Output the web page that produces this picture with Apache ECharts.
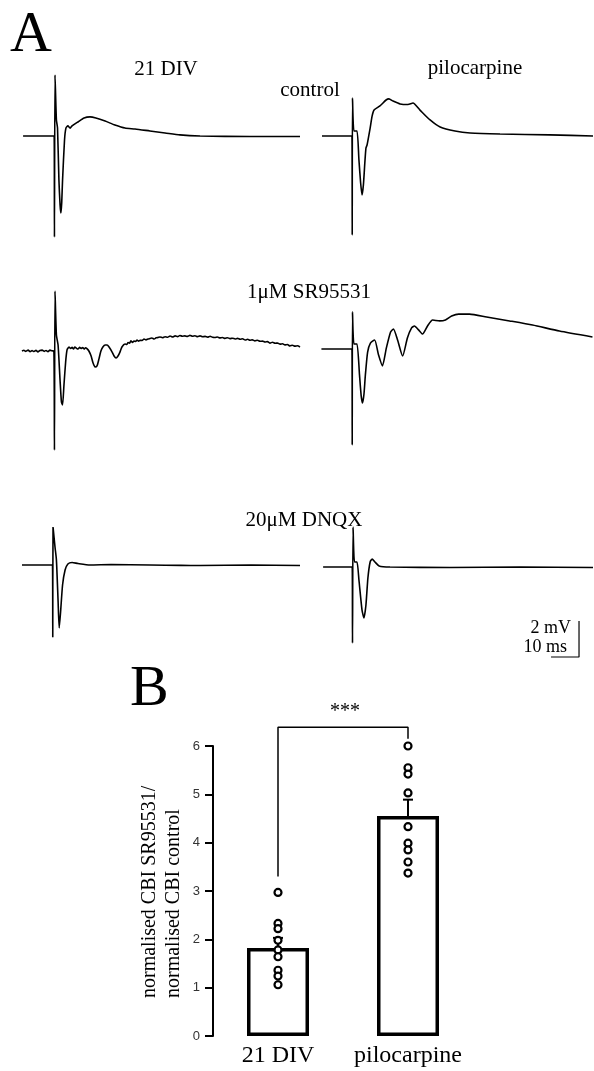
<!DOCTYPE html>
<html>
<head>
<meta charset="utf-8">
<script src="https://cdn.jsdelivr.net/npm/echarts/dist/echarts.min.js"></script>
<style>
  html, body { margin: 0; padding: 0; background: #fff; }
  #chart { width: 594px; height: 1071px; }
</style>
</head>
<body>
<div id="chart"></div>
<script>
// ---------- Panel A: field potential traces, [time ms, voltage mV] ----------
const trace21DivControl = [[-11.4,0],[-0.3,0],[-0.2,-5.61],[0,3.39],[0.5,0.89],[0.9,0.44],[1.4,-2.44],[1.8,-3.8],[2.1,-4.28],[2.4,-3.7],[2.7,-2.44],[3.4,-0.22],[3.9,0.44],[4.6,0.56],[5.4,0.44],[6.1,0.56],[8.2,0.78],[10.4,1.0],[12.5,1.06],[14.6,1.0],[17.9,0.83],[21.4,0.61],[25,0.44],[28.6,0.39],[33.9,0.28],[39.3,0.17],[44.6,0.06],[51.8,0],[69.6,-0.03],[87.5,-0.03]];
const tracePiloControl = [[-10.9,0],[-0.2,0],[-0.1,-5.5],[0,2.11],[0.5,0.28],[1.6,0.28],[2.3,-1.33],[2.9,-2.6],[3.4,-3.28],[3.9,-2.7],[4.4,-1.5],[4.8,-0.67],[5.2,-0.5],[6.3,0.44],[7.0,1.1],[7.7,1.44],[9.8,1.67],[12,2.0],[13,2.06],[14.5,1.94],[17,1.78],[19.8,1.75],[21.6,1.83],[24.1,1.44],[27.7,0.89],[31.3,0.5],[36.6,0.28],[42,0.17],[52.7,0.11],[70.5,0.06],[85.9,0]];
const trace21DivSR = [[-11.8,0],[-11.1,0.04],[-10.4,-0.02],[-9.6,0.05],[-8.9,-0.04],[-8.2,0.02],[-7.5,-0.03],[-6.8,0.04],[-6.1,-0.05],[-5.4,0.03],[-4.6,0.05],[-3.9,-0.02],[-3.2,0.03],[-2.5,-0.04],[-1.8,0.05],[-1.1,0.01],[-0.4,0],[-0.2,-5.5],[0,3.33],[0.5,0.89],[1.1,0.33],[1.8,-1.61],[2.3,-2.83],[2.7,-3.0],[3.2,-1.89],[3.8,-0.61],[4.3,0.06],[5.0,0.22],[5.6,0.14],[6.1,0.2],[6.6,0.12],[7.1,0.22],[7.7,0.15],[8.2,0.11],[8.8,0.2],[9.3,0.14],[9.9,0.19],[10.4,0.11],[10.9,0.18],[11.4,0.13],[12.1,0],[12.9,-0.28],[13.6,-0.67],[14.3,-0.89],[15.0,-0.83],[15.7,-0.44],[16.4,0],[17.1,0.22],[17.9,0.33],[18.6,0.33],[19.3,0.22],[20.4,-0.06],[21.1,-0.28],[21.8,-0.39],[22.5,-0.28],[23.2,-0.06],[23.9,0.22],[25.0,0.39],[25.6,0.36],[26.1,0.47],[26.6,0.43],[27.1,0.56],[27.7,0.48],[28.2,0.55],[28.8,0.53],[29.3,0.61],[29.9,0.55],[30.4,0.6],[31.1,0.58],[31.8,0.67],[32.5,0.62],[33.2,0.66],[33.9,0.7],[34.6,0.72],[35.4,0.67],[36.1,0.73],[36.8,0.75],[37.5,0.78],[38.4,0.74],[39.3,0.79],[40.2,0.76],[41.1,0.83],[42.0,0.78],[42.9,0.84],[43.8,0.8],[44.6,0.86],[45.5,0.82],[46.4,0.84],[47.3,0.81],[48.2,0.87],[49.1,0.82],[50.0,0.85],[50.9,0.8],[51.8,0.84],[52.7,0.79],[53.6,0.81],[54.5,0.77],[55.4,0.82],[56.3,0.76],[57.1,0.75],[58.0,0.78],[58.9,0.73],[59.8,0.75],[60.7,0.7],[61.6,0.74],[62.5,0.69],[63.4,0.71],[64.3,0.67],[65.2,0.7],[66.1,0.65],[67.0,0.68],[67.9,0.61],[68.8,0.65],[69.6,0.6],[70.5,0.62],[71.4,0.56],[72.3,0.6],[73.2,0.54],[74.1,0.55],[75.0,0.5],[75.9,0.52],[76.8,0.44],[77.7,0.49],[78.6,0.43],[79.5,0.44],[80.4,0.38],[81.3,0.4],[82.1,0.34],[83.0,0.36],[83.9,0.28],[84.8,0.32],[85.7,0.27],[86.6,0.29],[87.5,0.22]];
const tracePiloSR = [[-11.1,0],[-0.2,0],[-0.1,-5.33],[0,2.06],[0.5,0.28],[1.6,0.28],[2.5,-1.44],[3.1,-2.6],[3.6,-3.0],[4.1,-2.5],[4.6,-1.44],[5.4,-0.17],[6.4,0.33],[7.9,0.5],[9.3,-0.33],[10.7,-0.94],[12.1,0.06],[13.6,0.94],[14.6,1.11],[16.1,0.5],[17.9,-0.39],[19.6,0.61],[21.1,1.17],[22.1,1.28],[23.6,1.06],[25,0.83],[26.8,1.28],[28.6,1.61],[31.1,1.56],[33.2,1.61],[35.4,1.83],[37.9,1.94],[41.8,1.94],[47.9,1.78],[56.1,1.56],[64.3,1.33],[73.9,1.0],[85.7,0.67]];
const trace21DivDNQX = [[-11.8,0],[-0.9,0],[-0.8,-4.0],[-0.7,2.11],[0,1.0],[0.5,0.3],[1.1,-2.0],[1.5,-3.5],[2.0,-2.6],[2.7,-1.11],[3.6,-0.28],[4.6,0.06],[6.1,0.14],[8.2,0.08],[12.5,0],[20,0.02],[33.9,0],[45,-0.02],[51.8,-0.03],[70,0],[87.5,-0.03]];
const tracePiloDNQX = [[-10.5,0],[-0.1,0],[0,-4.22],[0.2,2.22],[0.7,0.28],[1.6,0.28],[2.3,-0.72],[3.4,-2.39],[4.1,-2.83],[4.8,-2.11],[5.5,-0.61],[6.3,0.28],[7.0,0.44],[8.0,0.28],[9.5,0.06],[13.4,0],[34.8,-0.03],[59.8,0],[85.9,-0.03]];
const scaleBarMs = 10;
const scaleBarMv = 2;

// ---------- Panel B: CBI ratio ----------
const groupNames = ['21 DIV', 'pilocarpine'];
const ratioMeans = [1.82, 4.55];
const ratioSEM = [0.21, 0.34];
const ratioPoints21Div = [2.97, 2.33, 2.22, 1.98, 1.78, 1.64, 1.36, 1.24, 1.06];
const ratioPointsPilo = [6.0, 5.55, 5.42, 5.03, 4.33, 3.99, 3.85, 3.60, 3.37];
const yTickValues = [0, 1, 2, 3, 4, 5, 6];
const bracketX = [0, 0, 1, 1];
const bracketY = [3.3, 6.39, 6.39, 6.15];

// ---------- layout ----------
const SERIF = 'Liberation Serif';
const PX_MS = 2.8, PX_MV = 18;
const traces = [trace21DivControl, tracePiloControl, trace21DivSR, tracePiloSR, trace21DivDNQX, tracePiloDNQX];
const baselines = [136, 136, 351, 349, 565, 567];
const colX = [{ artifact: 55, min: -12, max: 88 }, { artifact: 352.5, min: -11, max: 86 }];
const Y_MIN = -6, Y_MAX = 4;

const grids = [], xAxes = [], yAxes = [], series = [];
traces.forEach((tr, i) => {
  const c = colX[i % 2];
  grids.push({
    left: c.artifact + c.min * PX_MS,
    width: (c.max - c.min) * PX_MS,
    top: baselines[i] - Y_MAX * PX_MV,
    height: (Y_MAX - Y_MIN) * PX_MV
  });
  xAxes.push({ gridIndex: i, type: 'value', min: c.min, max: c.max, show: false });
  yAxes.push({ gridIndex: i, type: 'value', min: Y_MIN, max: Y_MAX, show: false });
  series.push({
    type: 'line', xAxisIndex: i, yAxisIndex: i, data: tr,
    symbol: 'none', clip: false, smooth: 0.2,
    lineStyle: { color: '#000', width: 1.6 }
  });
});
// scale bar in the last trace grid (10 ms, 2 mV)
const sbEnd = 80.9, sbLow = -5;
series.push({
  type: 'line', xAxisIndex: 5, yAxisIndex: 5, symbol: 'none', clip: false,
  data: [[sbEnd - scaleBarMs, sbLow], [sbEnd, sbLow], [sbEnd, sbLow + scaleBarMv]],
  lineStyle: { color: '#000', width: 1.2 }
});

// panel B grid
const B = 6;
grids.push({ left: 213, top: 746, width: 260, height: 290 });
xAxes.push({
  gridIndex: B, type: 'category', data: groupNames,
  axisLine: { show: false }, axisTick: { show: false },
  axisLabel: { interval: 0, fontFamily: SERIF, fontSize: 24, color: '#000', margin: 8 }
});
yAxes.push({
  gridIndex: B, type: 'value', position: 'left', min: yTickValues[0], max: yTickValues[yTickValues.length - 1], interval: 1,
  axisLine: { show: true, onZero: false, lineStyle: { color: '#000', width: 2, opacity: 1 } },
  axisTick: { show: true, inside: false, length: 8, lineStyle: { color: '#000', width: 2, opacity: 1 } },
  axisLabel: { show: true, fontFamily: 'Liberation Sans', fontSize: 13, color: '#333', margin: 13 },
  splitLine: { show: false }
});
series.push({
  type: 'bar', xAxisIndex: B, yAxisIndex: B, data: ratioMeans, barWidth: 62,
  itemStyle: { color: '#fff', borderColor: '#000', borderWidth: 3.5 }, z: 2
});
series.push({
  type: 'custom', xAxisIndex: B, yAxisIndex: B, z: 3,
  data: ratioMeans.map((m, i) => [i, m, m + ratioSEM[i]]),
  renderItem: (params, api) => {
    const lo = api.coord([api.value(0), api.value(1)]);
    const hi = api.coord([api.value(0), api.value(2)]);
    return {
      type: 'group', children: [
        { type: 'line', shape: { x1: lo[0], y1: lo[1], x2: hi[0], y2: hi[1] }, style: { stroke: '#000', lineWidth: 2 } },
        { type: 'line', shape: { x1: hi[0] - 5, y1: hi[1], x2: hi[0] + 5, y2: hi[1] }, style: { stroke: '#000', lineWidth: 2 } }
      ]
    };
  }
});
series.push({
  type: 'scatter', xAxisIndex: B, yAxisIndex: B, z: 4, symbol: 'circle', symbolSize: 7,
  data: ratioPoints21Div.map(v => [0, v]).concat(ratioPointsPilo.map(v => [1, v])),
  itemStyle: { color: '#fff', borderColor: '#000', borderWidth: 2.2, opacity: 1 }
});
series.push({
  type: 'line', xAxisIndex: B, yAxisIndex: B, symbol: 'none', clip: false, z: 3,
  data: bracketX.map((x, i) => [x, bracketY[i]]),
  lineStyle: { color: '#000', width: 1.5 }
});

function txt(text, x, y, size, align, extra) {
  return Object.assign({
    type: 'text', x: x, y: y,
    style: { text: text, x: 0, y: 0, font: size + 'px "' + SERIF + '"', fill: '#000',
             textAlign: align || 'center', textVerticalAlign: 'middle' }
  }, extra || {});
}

const graphics = [
  txt('A', 10, 36, 58, 'left'),
  txt('21 DIV', 166, 69, 21),
  txt('control', 310, 90, 21),
  txt('pilocarpine', 475, 68, 21),
  txt('1μM SR95531', 309, 292, 21),
  txt('20μM DNQX', 304, 520, 21),
  txt('2 mV', 571, 628, 18, 'right'),
  txt('10 ms', 567, 647, 18, 'right'),
  txt('B', 130, 690, 58, 'left'),
  txt('***', 345, 712, 20),
  txt('normalised CBI SR95531/', 149.5, 998, 20, 'left', { rotation: Math.PI / 2 }),
  txt('normalised CBI control', 174, 998, 20, 'left', { rotation: Math.PI / 2 })
];

const chart = echarts.init(document.getElementById('chart'), null, { renderer: 'canvas' });
chart.setOption({
  backgroundColor: '#fff',
  animation: false,
  grid: grids,
  xAxis: xAxes,
  yAxis: yAxes,
  series: series,
  graphic: graphics
});
</script>
</body>
</html>
